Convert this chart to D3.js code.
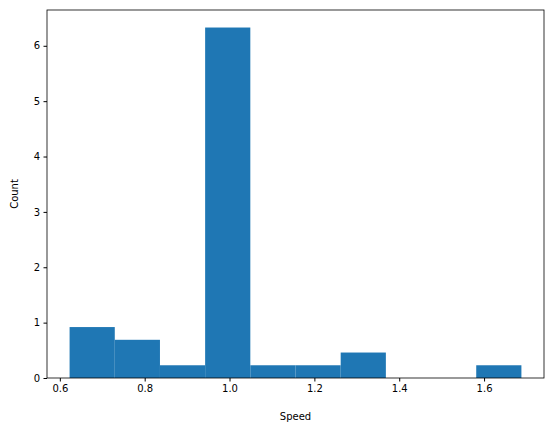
<!DOCTYPE html>
<html>
<head>
<meta charset="utf-8">
<script src="https://cdn.jsdelivr.net/npm/d3@7"></script>
<style>
  body { margin: 0; background: #fff; }
  text { font-family: "DejaVu Sans", sans-serif; }
</style>
</head>
<body>
<svg id="chart" width="554" height="432"></svg>
<script>
// bin edges and heights
const binStart = 0.623;
const binWidth = 0.1065;
const counts = [0.92, 0.69, 0.23, 6.33, 0.23, 0.23, 0.46, 0, 0, 0.23];
const xTicks = [0.6, 0.8, 1.0, 1.2, 1.4, 1.6];
const yTicks = [0, 1, 2, 3, 4, 5, 6];

const margin = { left: 47, right: 10, top: 10, bottom: 54 };
const svg = d3.select('#chart');
const width = 554 - margin.left - margin.right;
const height = 432 - margin.top - margin.bottom;

const bins = counts.map((c, i) => ({ x0: binStart + i * binWidth, x1: binStart + (i + 1) * binWidth, c: c }));
const xMin = binStart, xMax = binStart + counts.length * binWidth;
const pad = (xMax - xMin) * 0.05;

const xScale = d3.scaleLinear().domain([xMin - pad, xMax + pad]).range([0, width]);
const yScale = d3.scaleLinear().domain([0, d3.max(counts) * 1.05]).range([height, 0]);

const g = svg.append('g').attr('transform', `translate(${margin.left},${margin.top})`);

g.selectAll('.bar')
  .data(bins)
  .enter().append('rect')
  .attr('class', 'bar')
  .attr('x', d => xScale(d.x0))
  .attr('width', d => xScale(d.x1) - xScale(d.x0))
  .attr('y', d => yScale(d.c))
  .attr('height', d => height - yScale(d.c))
  .style('fill', '#1f77b4');

const xAxis = g.append('g').attr('transform', `translate(0,${height})`)
  .call(d3.axisBottom(xScale).tickValues(xTicks).tickFormat(d3.format('.1f')).tickSizeOuter(0).tickSize(3.5).tickPadding(3.5));
const yAxis = g.append('g')
  .call(d3.axisLeft(yScale).tickValues(yTicks).tickFormat(d3.format('d')).tickSizeOuter(0).tickSize(3.5).tickPadding(3.5));
[xAxis, yAxis].forEach(a => {
  a.selectAll('text').style('font-size', '10px').style('fill', '#000');
  a.selectAll('line').style('stroke', '#000');
  a.select('.domain').remove();
});

g.append('rect').attr('width', width).attr('height', height)
  .style('fill', 'none').style('stroke', '#000').style('stroke-width', 0.8);

svg.append('text').attr('x', margin.left + width / 2).attr('y', 420)
  .attr('text-anchor', 'middle').style('font-size', '10px').text('Speed');
svg.append('text').attr('transform', `translate(18,${margin.top + height / 2}) rotate(-90)`)
  .attr('text-anchor', 'middle').style('font-size', '10px').text('Count');
</script>
</body>
</html>
